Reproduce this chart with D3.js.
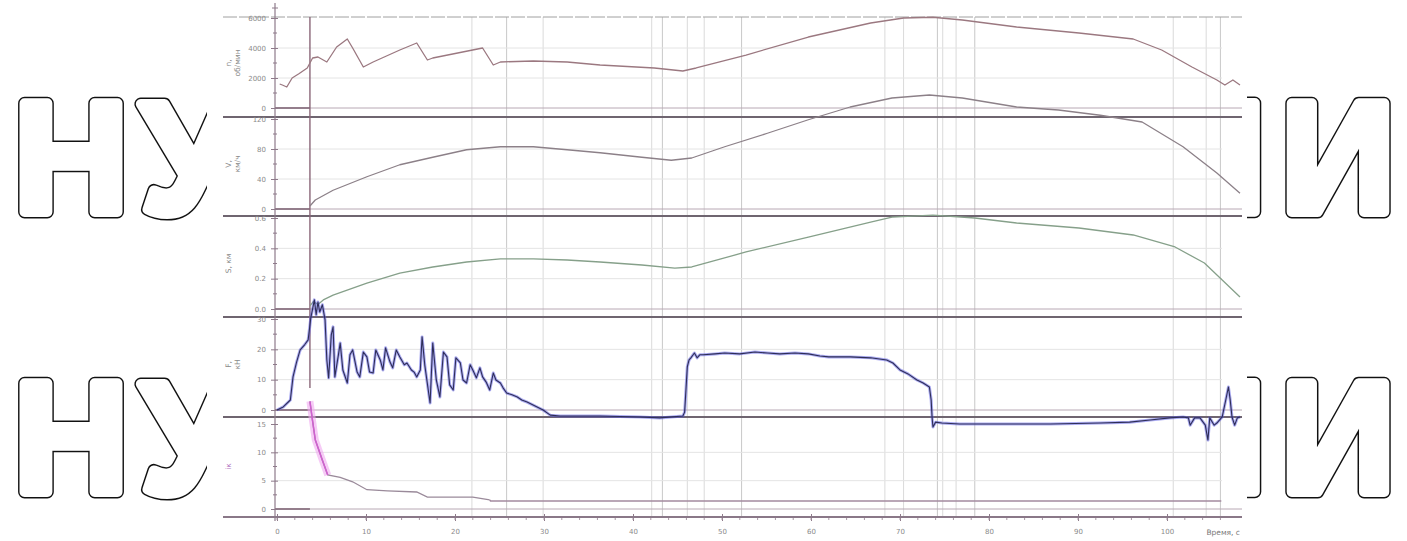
<!DOCTYPE html>
<html>
<head>
<meta charset="utf-8">
<script src="https://cdn.jsdelivr.net/npm/d3@7"></script>
<style>
  body { margin: 0; background: #fff; }
  svg { display: block; }
</style>
</head>
<body>
<svg id="chart" width="1407" height="541"></svg>
<script>
// ---- recorded channels: [time, value] ----
const engineSpeed = [
  [0.3,1600],[0.6,1533],[1.1,1400],[1.7,2000],[2.5,2300],[3.4,2667],[4.0,3333],[4.6,3400],[5.6,3067],
  [6.7,4067],[7.9,4600],[8.5,4000],[9.7,2733],[10.8,3067],[13.8,3867],[15.7,4333],[16.9,3200],
  [17.5,3333],[23.1,4000],[24.3,2867],[25.1,3067],[28.8,3133],[32.6,3067],[36.3,2867],[42.4,2667],
  [45.6,2467],[47.1,2667],[52.7,3533],[59.7,4733],[66.7,5667],[70.4,6000],[73.7,6050],[77.0,5867],
  [83.1,5400],[90.1,5000],[96.2,4600],[99.4,3867],[102.8,2733],[105.6,1867],[106.5,1533],
  [107.4,1867],[108.2,1533]
];
const speed = [
  [3.7,4],[4.3,12],[6.3,25],[10.1,43],[13.8,59],[17.5,69],[21.3,79],[25.1,83],[28.8,83],[32.6,79],
  [36.3,75],[41.0,69],[44.3,65],[46.6,68],[50.3,83],[55.1,101],[59.7,119],[64.4,136],[69.1,148],
  [73.3,152],[77.0,148],[83.1,136],[87.8,132],[92.5,125],[97.2,116],[101.8,83],[105.6,48],[108.2,21]
];
const distance = [
  [3.7,0.02],[4.1,0.05],[4.6,0.03],[5.2,0.06],[6.3,0.092],[10.1,0.171],[13.8,0.237],[17.5,0.277],
  [21.3,0.310],[25.1,0.330],[28.8,0.330],[32.6,0.323],[36.3,0.310],[41.0,0.290],[44.7,0.270],
  [46.6,0.277],[52.7,0.376],[59.7,0.474],[66.7,0.573],[69.1,0.606],[73.7,0.619],[78.4,0.600],
  [83.1,0.567],[90.1,0.534],[96.2,0.488],[100.9,0.409],[104.2,0.303],[108.2,0.079]
];
const tractiveForce = [
  [0,0],[0.7,1.0],[1.5,3.3],[1.8,10.9],[2.2,15.8],[2.6,19.8],[3.1,21.5],[3.5,23.1],[3.8,30.4],
  [4.2,36.3],[4.4,31.4],[4.6,35.6],[4.8,32.3],[5.1,34.7],[5.4,29.7],[5.6,16.5],[5.8,10.6],[6.1,24.8],
  [6.3,27.4],[6.5,10.9],[6.9,18.2],[7.1,22.1],[7.4,13.2],[7.9,8.9],[8.2,18.2],[8.5,19.8],[9.0,12.5],
  [9.3,10.9],[9.7,19.1],[10.1,17.5],[10.4,12.5],[10.8,12.2],[11.1,19.8],[11.6,16.5],[11.9,13.2],
  [12.2,20.5],[12.7,15.8],[13.0,13.9],[13.4,19.8],[13.8,17.5],[14.3,14.9],[14.6,15.5],[15.1,13.2],
  [15.4,12.5],[15.7,10.9],[16.1,13.2],[16.3,24.1],[16.6,14.9],[17.2,2.3],[17.5,22.1],[17.9,9.9],
  [18.3,4.3],[18.7,19.1],[19.1,17.5],[19.4,8.3],[19.8,6.6],[20.1,17.2],[20.6,15.5],[20.9,9.9],
  [21.3,8.9],[21.7,14.9],[22.0,13.2],[22.4,10.6],[22.8,13.9],[23.1,10.9],[23.5,9.2],[23.9,6.6],
  [24.3,12.2],[24.6,9.9],[25.1,8.9],[25.4,7.3],[25.8,5.6],[26.4,5.0],[27.0,4.3],[27.5,3.3],[28.1,2.6],
  [29.0,1.3],[29.9,0],[30.7,-1.7],[31.8,-2.0],[36.3,-2.0],[40.8,-2.3],[43.0,-2.6],[45.6,-2.0],
  [45.8,-0.7],[46.1,14.2],[46.3,16.5],[46.5,17.2],[46.9,18.8],[47.2,17.2],[47.5,18.2],[47.9,18.2],
  [49.2,18.5],[50.3,18.8],[52.0,18.5],[53.7,19.1],[55.1,18.8],[56.5,18.5],[58.2,18.8],[59.7,18.5],
  [61.0,17.8],[62.0,17.5],[64.4,17.5],[66.7,17.2],[68.5,16.5],[69.2,15.5],[70.0,13.2],[70.9,11.9],
  [71.9,9.9],[72.6,8.9],[73.3,7.6],[73.5,3.3],[73.6,-2.3],[73.7,-5.6],[74.0,-4.0],[74.7,-4.3],
  [76.7,-4.6],[81.2,-4.6],[86.9,-4.6],[92.5,-4.3],[95.8,-4.0],[98.1,-3.3],[100.3,-2.6],[101.8,-2.3],
  [102.4,-2.6],[102.6,-5.0],[103.1,-2.6],[103.7,-2.6],[104.3,-5.0],[104.6,-9.9],[104.8,-2.6],
  [105.3,-5.0],[105.6,-4.3],[106.2,-2.3],[106.6,3.3],[106.9,7.6],[107.1,3.3],[107.3,-2.3],
  [107.6,-5.0],[107.9,-2.6],[108.2,-2.3]
];
const gearRatio = [
  [3.7,19.0],[4.0,15.5],[4.3,12.2],[5.1,8.6],[5.7,6.0],[7.1,5.6],[8.5,4.8],[10.1,3.4],[12.4,3.2],
  [15.7,3.0],[16.9,2.1],[22.0,2.1],[23.9,1.6],[24.0,1.4],[106.1,1.4]
];

// ---- axis ticks ----
const timeTicks = [0, 10, 20, 30, 40, 50, 60, 70, 80, 90, 100];
const engineTicks = [0, 2000, 4000, 6000];
const speedTicks = [0, 40, 80, 120];
const distanceTicks = [0, 0.2, 0.4, 0.6];
const forceTicks = [0, 10, 20, 30];
const ratioTicks = [0, 5, 10, 15];
const markerTimes = [21.9, 25.8, 29.9, 42.1, 43.3, 46.1, 48.0, 52.2, 68.3, 70.4, 74.2, 74.8, 76.3, 78.4, 100.7, 104.4, 106.0];
const cursorTime = 3.7;

const svg = d3.select("#chart");
const W = 1407, H = 541;

// ---- background lettering ----
const wm = svg.append("g")
  .attr("font-family", "'Liberation Sans', Arial, sans-serif")
  .attr("font-weight", "bold")
  .attr("font-size", 158)
  .attr("text-anchor", "middle");
const letters = [["Н", 71], ["У", 190], ["Л", 1210], ["И", 1338]];
[212, 492].forEach(base => {
  letters.forEach(([ch, cx]) => {
    wm.append("text").attr("x", cx).attr("y", base).text(ch)
      .attr("fill", "none").attr("stroke", "#111").attr("stroke-width", 13)
      .attr("stroke-linejoin", "round");
    wm.append("text").attr("x", cx).attr("y", base).text(ch)
      .attr("fill", "#fff").attr("stroke", "#fff").attr("stroke-width", 10)
      .attr("stroke-linejoin", "round");
  });
});

// ---- plot area ----
const plot = svg.append("g");
plot.append("rect").attr("x", 207).attr("y", 0).attr("width", 1040).attr("height", H).attr("fill", "#fff");

const x = d3.scaleLinear().domain([0, 108.2]).range([277, 1240]);
const AX = 275, LEFT = 223, RIGHT = 1242;

const panels = [
  { data: engineSpeed, ticks: engineTicks, y: d3.scaleLinear().domain([0, 6000]).range([108, 18]),
    title: ["n,", "об/мин"], color: "#9b7880" },
  { data: speed, ticks: speedTicks, y: d3.scaleLinear().domain([0, 120]).range([209, 119]),
    title: ["V,", "км/ч"], color: "#8c8088" },
  { data: distance, ticks: distanceTicks, y: d3.scaleLinear().domain([0, 0.6]).range([309, 218]),
    title: ["S, км"], color: "#86a08a" },
  { data: tractiveForce, ticks: forceTicks, y: d3.scaleLinear().domain([0, 30]).range([410, 319]),
    title: ["F,", "кН"], color: "#2e2e58" },
  { data: gearRatio, ticks: ratioTicks, y: d3.scaleLinear().domain([0, 15]).range([509, 424]),
    title: ["iк"], color: "#a48aa0" }
];

// vertical event lines
plot.append("g").selectAll("line").data(markerTimes).join("line")
  .attr("x1", d => x(d)).attr("x2", d => x(d)).attr("y1", 17).attr("y2", 517)
  .attr("stroke", (d, i) => i % 3 === 1 ? "#c8c8c8" : "#dadada").attr("stroke-width", 1);

// horizontal grid lines
panels.forEach(p => {
  plot.append("g").selectAll("line").data(p.ticks.slice(1, -1)).join("line")
    .attr("x1", AX).attr("x2", RIGHT - 20).attr("y1", d => p.y(d)).attr("y2", d => p.y(d))
    .attr("stroke", "#e4e4e4").attr("stroke-width", 1);
  // zero line
  plot.append("line").attr("x1", AX).attr("x2", RIGHT).attr("y1", p.y(0)).attr("y2", p.y(0))
    .attr("stroke", "#b8a8b4").attr("stroke-width", 1);
  plot.append("line").attr("x1", AX).attr("x2", x(cursorTime)).attr("y1", p.y(0)).attr("y2", p.y(0))
    .attr("stroke", "#7c6272").attr("stroke-width", 1.4);
});

// panel separators
plot.append("line").attr("x1", LEFT).attr("x2", RIGHT).attr("y1", 17).attr("y2", 17)
  .attr("stroke", "#a0a0a0").attr("stroke-width", 1).attr("stroke-dasharray", "14,2");
[117, 216, 317, 417].forEach(yy => {
  plot.append("line").attr("x1", LEFT).attr("x2", RIGHT).attr("y1", yy).attr("y2", yy)
    .attr("stroke", "#6f6570").attr("stroke-width", 1.8);
});

// y axis spine
plot.append("line").attr("x1", AX).attr("x2", AX).attr("y1", 3).attr("y2", 521)
  .attr("stroke", "#8e7a8a").attr("stroke-width", 1.2);
plot.append("line").attr("x1", AX - 3).attr("x2", AX + 3).attr("y1", 8).attr("y2", 8)
  .attr("stroke", "#8e7a8a").attr("stroke-width", 1);

// y axes
panels.forEach((p, i) => {
  const g = plot.append("g").attr("transform", `translate(${AX},0)`)
    .call(d3.axisLeft(p.y).tickValues(p.ticks).tickSize(4).tickPadding(5)
      .tickFormat(d3.format(p.ticks[1] < 1 ? ".1f" : "d")));
  g.select(".domain").remove();
  g.selectAll(".tick line").attr("stroke", "#8e7a8a").attr("x2", 3).attr("x1", -4);
  g.selectAll(".tick text").attr("fill", "#8a8a8a").attr("font-size", 7)
    .attr("font-family", "'DejaVu Sans', sans-serif");
  // minor ticks
  const minors = d3.range(p.ticks.length - 1).map(k => (p.ticks[k] + p.ticks[k + 1]) / 2);
  plot.append("g").selectAll("line").data(minors).join("line")
    .attr("x1", AX - 2).attr("x2", AX + 2).attr("y1", d => p.y(d)).attr("y2", d => p.y(d))
    .attr("stroke", "#8e7a8a");
  // title
  const [r0, r1] = p.y.range();
  const cy = (r0 + r1) / 2;
  const t = plot.append("text").attr("transform", `translate(231,${cy}) rotate(-90)`)
    .attr("text-anchor", "middle").attr("font-size", 7.5)
    .attr("font-family", "'DejaVu Sans', sans-serif")
    .attr("fill", i === 4 ? "#b070c0" : "#8a8a8a");
  p.title.forEach((line, k) => t.append("tspan").attr("x", 0).attr("dy", k === 0 ? 0 : 9).text(line));
});

// cursor
plot.append("line").attr("x1", x(cursorTime)).attr("x2", x(cursorTime)).attr("y1", 17).attr("y2", 388)
  .attr("stroke", "#8a6678").attr("stroke-width", 1.4);

// series
const line = (p) => d3.line().x(d => x(d[0])).y(d => p.y(d[1]));
panels.forEach((p, i) => {
  if (i === 3) {
    plot.append("path").datum(p.data).attr("d", line(p)).attr("fill", "none")
      .attr("stroke", "#5a5ae6").attr("stroke-opacity", 0.5).attr("stroke-width", 3)
      .attr("stroke-linejoin", "round");
    plot.append("path").datum(p.data).attr("d", line(p)).attr("fill", "none")
      .attr("stroke", p.color).attr("stroke-width", 1.1).attr("stroke-linejoin", "round");
  } else if (i === 4) {
    const head = p.data.slice(0, 5);
    plot.append("path").datum(head).attr("d", line(p)).attr("fill", "none")
      .attr("stroke", "#f0a8f0").attr("stroke-opacity", 0.6).attr("stroke-width", 7);
    plot.append("path").datum(p.data.slice(0, 13)).attr("d", line(p)).attr("fill", "none")
      .attr("stroke", "#9a8a9a").attr("stroke-width", 1.3);
    plot.append("path").datum(head).attr("d", line(p)).attr("fill", "none")
      .attr("stroke", "#d060d0").attr("stroke-width", 1.5);
    plot.append("path").datum(p.data.slice(12)).attr("d", line(p)).attr("fill", "none")
      .attr("stroke", p.color).attr("stroke-width", 1.6);
  } else {
    plot.append("path").datum(p.data).attr("d", line(p)).attr("fill", "none")
      .attr("stroke", p.color).attr("stroke-width", 1.3).attr("stroke-linejoin", "round");
  }
});

// time axis
const xa = plot.append("g").attr("transform", "translate(0,517)")
  .call(d3.axisBottom(x).tickValues(timeTicks).tickSize(4).tickPadding(8).tickFormat(d3.format("d")));
xa.select(".domain").remove();
xa.selectAll(".tick line").attr("stroke", "#8e7a8a").attr("y1", -3);
xa.selectAll(".tick text").attr("fill", "#8a8a8a").attr("font-size", 7)
  .attr("font-family", "'DejaVu Sans', sans-serif");
plot.append("g").selectAll("line").data(d3.range(0, 108, 2)).join("line")
  .attr("x1", d => x(d)).attr("x2", d => x(d)).attr("y1", 516).attr("y2", 520)
  .attr("stroke", "#a898a4");
plot.append("line").attr("x1", LEFT).attr("x2", RIGHT).attr("y1", 517).attr("y2", 517)
  .attr("stroke", "#8a7888").attr("stroke-width", 1.8);
plot.append("text").attr("x", 1240).attr("y", 535).attr("text-anchor", "end")
  .attr("font-size", 7.5).attr("font-family", "'DejaVu Sans', sans-serif").attr("fill", "#777")
  .text("Время, с");
</script>
</body>
</html>
